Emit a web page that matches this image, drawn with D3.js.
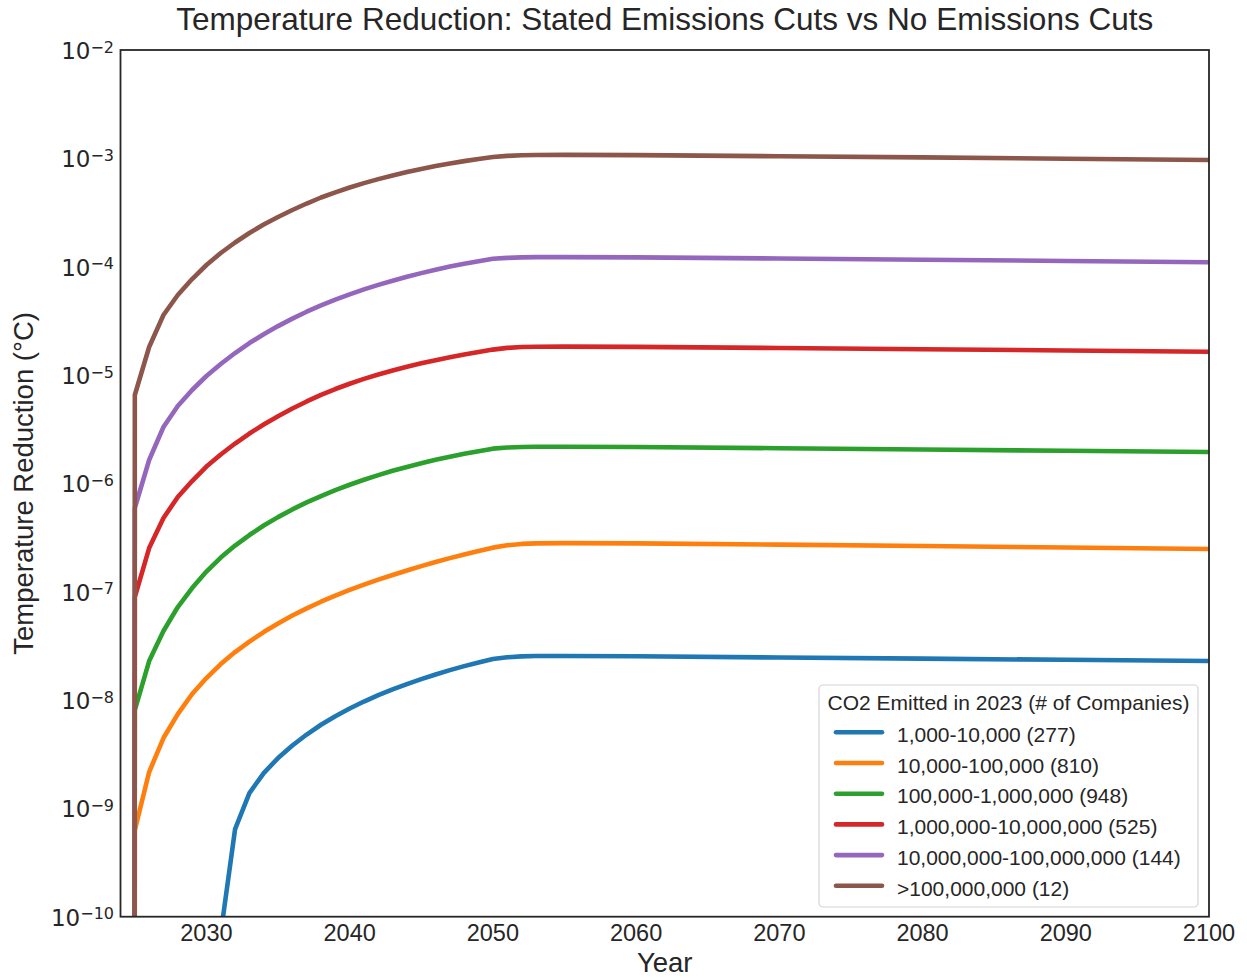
<!DOCTYPE html>
<html><head><meta charset="utf-8">
<script src="https://cdn.jsdelivr.net/npm/d3@7/dist/d3.min.js"></script>
<style>body{margin:0;background:#fff}svg{display:block}</style>
</head><body>
<svg id="chart" width="1247" height="978"></svg>
<script>
// ---------- data ----------
const years = [2024,2025,2026,2027,2028,2029,2030,2031,2032,2033,2034,2035,2036,2037,2038,2039,2040,
  2041,2042,2043,2044,2045,2046,2047,2048,2049,2050,2051,2052,2053,2055,2060,2070,2080,2090,2100];

const bin1k_10k = [0,0,0,0,0,0,0,7e-11,6.44e-10,1.384e-9,2.118e-9,2.913e-9,3.80e-9,4.801e-9,5.911e-9,7.084e-9,
  8.343e-9,9.683e-9,1.109e-8,1.2545e-8,1.404e-8,1.561e-8,1.722e-8,1.887e-8,2.054e-8,2.222e-8,2.394e-8,
  2.48e-8,2.53e-8,2.545e-8,2.55e-8,2.535e-8,2.47e-8,2.41e-8,2.35e-8,2.29e-8];
const bin10k_100k = [0,6.30e-10,2.164e-9,4.457e-9,7.42e-9,1.136e-8,1.595e-8,2.148e-8,2.772e-8,3.465e-8,4.24e-8,
  5.092e-8,6.022e-8,7.02e-8,8.077e-8,9.194e-8,1.0378e-7,1.1619e-7,1.292e-7,1.427e-7,1.571e-7,1.721e-7,1.877e-7,
  2.04e-7,2.207e-7,2.378e-7,2.55e-7,2.68e-7,2.76e-7,2.795e-7,2.81e-7,2.79e-7,2.72e-7,2.64e-7,2.56e-7,2.48e-7];
const bin100k_1m = [0,8.08e-9,2.29e-8,4.333e-8,7.22e-8,1.081e-7,1.535e-7,2.066e-7,2.667e-7,3.334e-7,4.079e-7,
  4.879e-7,5.744e-7,6.665e-7,7.638e-7,8.659e-7,9.711e-7,1.0799e-6,1.191e-6,1.305e-6,1.418e-6,1.533e-6,1.649e-6,
  1.761e-6,1.873e-6,1.983e-6,2.091e-6,2.14e-6,2.165e-6,2.177e-6,2.18e-6,2.165e-6,2.11e-6,2.05e-6,2.0e-6,1.95e-6];
const bin1m_10m = [0,8.92e-8,2.529e-7,4.785e-7,7.475e-7,1.05e-6,1.43e-6,1.845e-6,2.331e-6,2.883e-6,3.491e-6,
  4.165e-6,4.905e-6,5.702e-6,6.551e-6,7.427e-6,8.308e-6,9.203e-6,1.0104e-5,1.1e-5,1.19e-5,1.282e-5,1.372e-5,
  1.459e-5,1.545e-5,1.63e-5,1.716e-5,1.78e-5,1.812e-5,1.826e-5,1.83e-5,1.82e-5,1.775e-5,1.73e-5,1.685e-5,1.64e-5];
const bin10m_100m = [0,5.92e-7,1.642e-6,3.311e-6,5.173e-6,7.27e-6,9.79e-6,1.264e-5,1.596e-5,1.974e-5,2.379e-5,
  2.827e-5,3.315e-5,3.839e-5,4.389e-5,4.963e-5,5.556e-5,6.166e-5,6.785e-5,7.418e-5,8.06e-5,8.72e-5,9.375e-5,
  1.0014e-4,1.0627e-4,1.1231e-4,1.182e-4,1.205e-4,1.218e-4,1.224e-4,1.226e-4,1.218e-4,1.19e-4,1.16e-4,1.13e-4,1.1e-4];
const bin100m_plus = [0,6.54e-6,1.813e-5,3.58e-5,5.475e-5,7.69e-5,1.036e-4,1.337e-4,1.671e-4,2.045e-4,2.449e-4,
  2.873e-4,3.334e-4,3.828e-4,4.35e-4,4.857e-4,5.378e-4,5.906e-4,6.431e-4,6.957e-4,7.477e-4,7.988e-4,8.479e-4,
  8.962e-4,9.428e-4,9.879e-4,1.029e-3,1.053e-3,1.067e-3,1.073e-3,1.076e-3,1.07e-3,1.045e-3,1.02e-3,0.992e-3,0.966e-3];

const seriesLabels = ["1,000-10,000 (277)","10,000-100,000 (810)","100,000-1,000,000 (948)",
  "1,000,000-10,000,000 (525)","10,000,000-100,000,000 (144)",">100,000,000 (12)"];
const seriesValues = [bin1k_10k, bin10k_100k, bin100k_1m, bin1m_10m, bin10m_100m, bin100m_plus];
const seriesColors = ["#1f77b4","#ff7f0e","#2ca02c","#d62728","#9467bd","#8c564b"];

const xTicks = [2030,2040,2050,2060,2070,2080,2090,2100];
const yTickExponents = [-10,-9,-8,-7,-6,-5,-4,-3,-2];

const titleText = "Temperature Reduction: Stated Emissions Cuts vs No Emissions Cuts";
const xLabelText = "Year";
const yLabelText = "Temperature Reduction (°C)";
const legendTitle = "CO2 Emitted in 2023 (# of Companies)";

// ---------- layout ----------
const L = 120.5, R = 1209, T = 50, B = 916.7;
const ink = "#262626";
const svg = d3.select("#chart");

const x = d3.scaleLinear().domain([2024, 2100]).range([L, R]);
const y = d3.scaleLog().domain([1e-10, 1e-2]).range([B, T]);

svg.append("defs").append("clipPath").attr("id","plotclip")
  .append("rect").attr("x", L).attr("y", T).attr("width", R - L).attr("height", B - T);

// lines (non-positive values are sent far below the axis, like a clipped log plot)
const line = d3.line()
  .x((d) => x(d.year))
  .y((d) => y(d.v > 0 ? d.v : 1e-300));

const gLines = svg.append("g").attr("clip-path", "url(#plotclip)");
seriesValues.forEach((vals, i) => {
  const pts = years.map((yr, j) => ({year: yr, v: vals[j]}));
  gLines.append("path")
    .attr("d", line(pts))
    .attr("fill", "none")
    .attr("stroke", seriesColors[i])
    .attr("stroke-width", 4.6)
    .attr("stroke-linejoin", "round")
    .attr("stroke-linecap", "butt");
});

// frame
svg.append("rect").attr("x", L).attr("y", T).attr("width", R - L).attr("height", B - T)
  .attr("fill", "none").attr("stroke", ink).attr("stroke-width", 1.8);

// x ticks
svg.append("g").selectAll("text").data(xTicks).join("text")
  .attr("x", (d) => x(d)).attr("y", 941)
  .attr("text-anchor", "middle")
  .attr("font-family", "'Liberation Sans', Arial, sans-serif")
  .attr("font-size", 23.5).attr("fill", ink)
  .text((d) => d);

// y ticks (10^n)
const yt = svg.append("g").selectAll("text").data(yTickExponents).join("text")
  .attr("x", 114).attr("y", (d) => y(Math.pow(10, d)) + 9)
  .attr("text-anchor", "end")
  .attr("font-family", "'DejaVu Sans', sans-serif")
  .attr("fill", ink);
yt.append("tspan").attr("font-size", 23).text("10");
yt.append("tspan").attr("font-size", 16).attr("dy", -6.5).text((d) => "\u2212" + Math.abs(d));

// title
svg.append("text").attr("x", (L + R) / 2).attr("y", 29.5)
  .attr("text-anchor", "middle")
  .attr("font-family", "'Liberation Sans', Arial, sans-serif")
  .attr("font-size", 31.5).attr("fill", ink).text(titleText);

// axis labels
svg.append("text").attr("x", (L + R) / 2).attr("y", 972)
  .attr("text-anchor", "middle")
  .attr("font-family", "'Liberation Sans', Arial, sans-serif")
  .attr("font-size", 27.5).attr("fill", ink).text(xLabelText);

svg.append("text")
  .attr("transform", `translate(33,${(T + B) / 2}) rotate(-90)`)
  .attr("text-anchor", "middle")
  .attr("font-family", "'Liberation Sans', Arial, sans-serif")
  .attr("font-size", 27.5).attr("fill", ink).text(yLabelText);

// legend
const lg = svg.append("g");
lg.append("rect").attr("x", 819).attr("y", 685).attr("width", 379).attr("height", 222)
  .attr("rx", 4).attr("fill", "#fff").attr("fill-opacity", 0.85)
  .attr("stroke", "#d4d4d4").attr("stroke-width", 1.2);
lg.append("text").attr("x", 1008.5).attr("y", 709.5).attr("text-anchor", "middle")
  .attr("font-family", "'Liberation Sans', Arial, sans-serif")
  .attr("font-size", 21).attr("fill", ink).text(legendTitle);
seriesLabels.forEach((lab, i) => {
  const cy = 732.3 + i * 30.7;
  lg.append("line").attr("x1", 836).attr("x2", 882).attr("y1", cy).attr("y2", cy)
    .attr("stroke", seriesColors[i]).attr("stroke-width", 4.6).attr("stroke-linecap", "round");
  lg.append("text").attr("x", 897).attr("y", cy + 9.7)
    .attr("font-family", "'Liberation Sans', Arial, sans-serif")
    .attr("font-size", 21).attr("fill", ink).text(lab);
});
</script>
</body></html>
